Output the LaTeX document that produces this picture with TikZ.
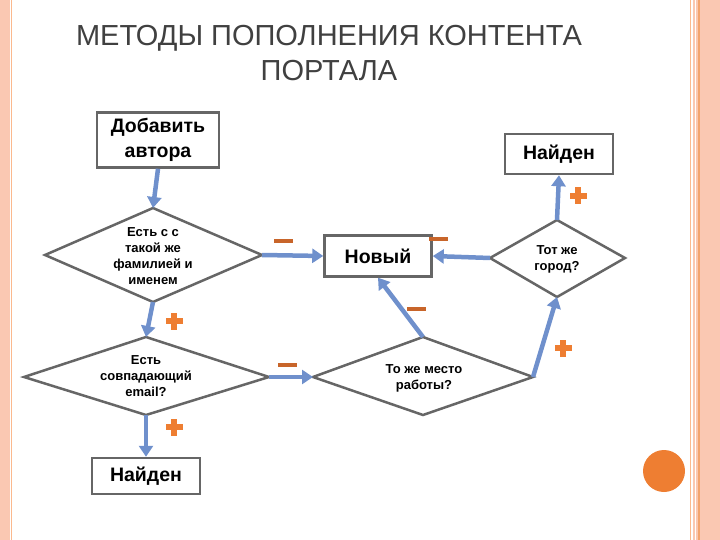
\documentclass[tikz,border=0pt]{standalone}
\usepackage{fontspec}
\setmainfont{Liberation Sans}
\usetikzlibrary{arrows.meta}
\definecolor{ar}{HTML}{6F90CC}
\definecolor{salm}{HTML}{FAC8B2}
\definecolor{org}{HTML}{EE7E32}
\definecolor{mn}{HTML}{C8652A}
\begin{document}
\begin{tikzpicture}[x=1pt,y=-1pt,
  box/.style={draw=black!60,line width=2.5pt,fill=white,inner sep=0pt,font=\bfseries},
  dia/.style={draw=black!60,line width=2.5pt,fill=white,line join=miter},
  dtext/.style={font=\bfseries\fontsize{13}{16}\selectfont,align=center},
  bt/.style={font=\bfseries\fontsize{19.5}{23}\selectfont},
  arr/.style={draw=ar,line width=4.5pt,-{Triangle[length=11pt,width=14pt]}},
  minus/.style={fill=mn,minimum width=19pt,minimum height=4pt,inner sep=0pt},
]
\useasboundingbox (0,0) rectangle (720,540);
% borders
\fill[salm] (0,0) rectangle (10,540);
\draw[salm!80!orange,line width=1pt] (11.5,0) -- (11.5,540);
\draw[salm!80!orange,line width=1pt] (690,0) -- (690,540);
\fill[salm] (693,0) rectangle (720,540);
\draw[org!70,line width=1.5pt] (699,0) -- (699,540);
\draw[white,line width=1pt] (695.5,0) -- (695.5,540);
% title
\node[text=black!75,font=\fontsize{29}{35}\selectfont,align=center] (title) at (329,53) {МЕТОДЫ ПОПОЛНЕНИЯ КОНТЕНТА\\ПОРТАЛА};
% nodes
\node[box,minimum width=122pt,minimum height=55pt,align=center,bt,font=\bfseries\fontsize{19.5}{25}\selectfont] (add) at (158,140) {Добавить\\автора};
\node[box,bt,minimum width=108pt,minimum height=40pt] (f1) at (559,154) {Найден};
\node[box,bt,minimum width=107pt,minimum height=41pt] (new) at (378,256) {Новый};
\node[box,bt,minimum width=108pt,minimum height=36pt] (f2) at (146,476) {Найден};
% diamonds
\draw[dia] (45,255) coordinate (d1l) -- (153,208) coordinate (d1t) -- (262,255) coordinate (d1r) -- (153,302) coordinate (d1b) -- cycle;
\node[dtext] (d1) at (153,256) {Есть с с\\такой же\\фамилией и\\именем};
\draw[dia] (24,377) coordinate (d2l) -- (146,337) coordinate (d2t) -- (269,377) coordinate (d2r) -- (146,415) coordinate (d2b) -- cycle;
\node[dtext] (d2) at (146,376) {Есть\\совпадающий\\email?};
\draw[dia] (313,377) coordinate (d3l) -- (423,337) coordinate (d3t) -- (533,377) coordinate (d3r) -- (423,415) coordinate (d3b) -- cycle;
\node[dtext] (d3) at (424,378) {То же место\\работы?};
\draw[dia] (490,258) coordinate (d4l) -- (557,220) coordinate (d4t) -- (625,258) coordinate (d4r) -- (557,297) coordinate (d4b) -- cycle;
\node[dtext] (d4) at (557,259) {Тот же\\город?};
% arrows
\draw[arr] (add.south) -- (d1t);
\draw[arr] (d1b) -- (d2t);
\draw[arr] (d1r) -- (new.west);
\draw[arr] (d2r) -- (d3l);
\draw[arr] (d2b) -- (f2.north);
\draw[arr] (d4l) -- (new.east);
\draw[arr] (d3t) -- (new.south);
\draw[arr] (d3r) -- (d4b);
\draw[arr] (d4t) -- (f1.south);
% signs
\node[minus] (m1) at (283,241) {};
\node[minus] (m2) at (438,239) {};
\node[minus] (m3) at (416,309) {};
\node[minus] (m4) at (287,365) {};
\foreach \n/\p in {p1/{(578,196)},p2/{(174,321)},p3/{(563,348)},p4/{(174,427)}}{
  \node[inner sep=0pt] (\n) at \p {};
  \fill[org] (\n) ++(-8.5,-3) rectangle ++(17,6);
  \fill[org] (\n) ++(-3,-8.5) rectangle ++(6,17);
}
\fill[org] (664,471) circle (21);
\end{tikzpicture}
\end{document}
